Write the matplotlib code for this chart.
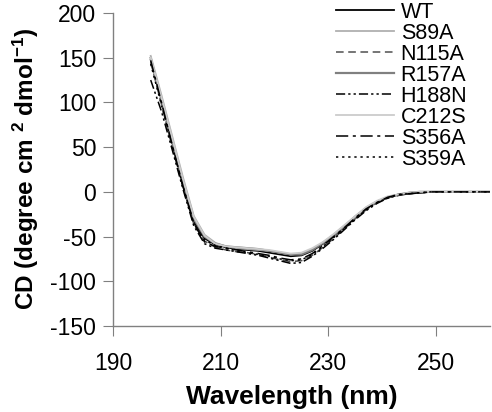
import numpy as np
import matplotlib
matplotlib.use("Agg")
import matplotlib.pyplot as plt

plt.rcParams['font.family'] = ['Liberation Sans', 'DejaVu Sans']
plt.rcParams['mathtext.fontset'] = 'custom'
plt.rcParams['mathtext.rm'] = 'Liberation Sans:bold'
plt.rcParams['mathtext.default'] = 'rm'
plt.rcParams['axes.unicode_minus'] = False

# wavelengths (nm)
wavelength = list(range(197, 260, 2)) + [260]

# CD signal for each variant
wt    = [150, 103, 55, 9, -33, -52, -59, -62, -64, -65, -66, -68, -70, -72, -71, -66, -58, -49, -39, -28, -18, -11, -6, -3, -2, -1, 0, 0, 0, 0, 0, 0, 0]
s89a  = [152, 108, 62, 16, -27, -48, -57, -61, -63, -64, -65, -66, -68, -70, -69, -64, -57, -48, -38, -27, -18, -11, -6, -3, -1, -1, 0, 0, 0, 0, 0, 0, 0]
n115a = [145, 98, 50, 5, -36, -55, -62, -65, -67, -68, -70, -73, -76, -78, -77, -71, -62, -52, -41, -30, -20, -12, -7, -3, -2, -1, 0, 0, 0, 0, 0, 0, 0]
r157a = [148, 104, 57, 12, -30, -50, -58, -61, -62, -63, -64, -66, -68, -70, -70, -65, -57, -48, -38, -28, -18, -11, -6, -3, -1, 0, 0, 0, 0, 0, 0, 0, 0]
h188n = [125, 90, 47, 3, -38, -58, -63, -65, -67, -69, -71, -74, -77, -80, -79, -72, -63, -53, -42, -31, -21, -13, -7, -4, -2, -1, 0, 0, 0, 0, 0, 0, 0]
c212s = [150, 106, 60, 14, -28, -49, -58, -61, -62, -63, -64, -65, -67, -69, -68, -63, -56, -47, -37, -27, -17, -10, -5, -3, -1, 0, 0, 0, 0, 0, 0, 0, 0]
s356a = [147, 100, 52, 6, -35, -56, -61, -63, -65, -67, -69, -71, -74, -76, -75, -69, -60, -50, -40, -29, -19, -12, -6, -3, -2, -1, 0, 0, 0, 0, 0, 0, 0]
s359a = [143, 97, 51, 6, -36, -54, -60, -63, -66, -68, -70, -72, -75, -77, -76, -70, -61, -51, -41, -30, -20, -12, -7, -3, -2, -1, 0, 0, 0, 0, 0, 0, 0]

labels = ['WT', 'S89A', 'N115A', 'R157A', 'H188N', 'C212S', 'S356A', 'S359A']
series = [wt, s89a, n115a, r157a, h188n, c212s, s356a, s359a]
styles = [
    dict(color='black', ls='-', lw=1.3),
    dict(color='#b0b0b0', ls='-', lw=1.3),
    dict(color='#505050', ls=(0, (5, 3)), lw=1.1),
    dict(color='#808080', ls='-', lw=1.6),
    dict(color='black', ls=(0, (6, 2, 1.5, 2, 1.5, 2)), lw=1.1),
    dict(color='#cccccc', ls='-', lw=1.3),
    dict(color='black', ls=(0, (8, 3, 2, 3)), lw=1.1),
    dict(color='black', ls=(0, (1.5, 2.5)), lw=1.1),
]

fig = plt.figure(figsize=(4.92, 4.12), dpi=100)
ax = fig.add_axes([113 / 492, 1 - 326 / 412, (490 - 113) / 492, (326 - 13) / 412])

for y, lab, st in zip(series, labels, styles):
    ax.plot(wavelength, y, label=lab, **st)

ax.set_xlim(190, 260)
ax.set_ylim(-150, 200)
ax.set_xticks([190, 210, 230, 250])
ax.set_yticks(np.arange(-150, 201, 50))

for s in ['top', 'right']:
    ax.spines[s].set_visible(False)
for s in ['left', 'bottom']:
    ax.spines[s].set_color('#808080')
    ax.spines[s].set_linewidth(1.0)
ax.tick_params(direction='out', length=7, color='#808080', labelsize=16.5, pad=5)
ax.tick_params(axis='x', pad=12)

ax.set_xlabel('Wavelength (nm)', fontsize=19, fontweight='bold', labelpad=8)
ax.xaxis.set_label_coords(0.475, -0.19)
ax.set_ylabel(r'CD (degree cm $^{2}$ dmol$^{-1}$)', fontsize=17.5, fontweight='bold', labelpad=7)

ax.legend(loc='upper left', bbox_to_anchor=(336 / 492, 1 - 2 / 412), bbox_transform=fig.transFigure,
          frameon=False, fontsize=15.5, handlelength=2.7, handletextpad=0.3,
          labelspacing=0.0, borderpad=0, borderaxespad=0)

fig.savefig('out.png', dpi=100)
